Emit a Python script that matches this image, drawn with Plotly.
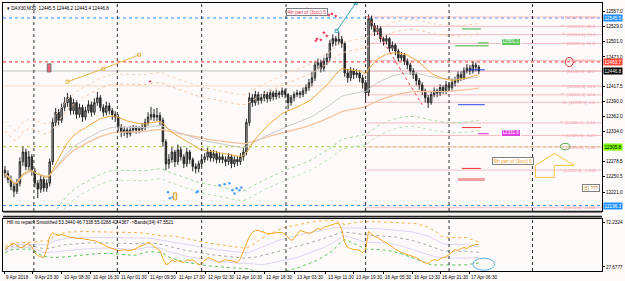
import pandas as pd
import plotly.graph_objects as go

# ---------------- data ----------------
first_open = 12262
closes = [12256,12245,12232,12223,12238,12278,12296,12269,12287,12260,
          12238,12227,12245,12229,12238,12278,12351,12370,12355,12379,
          12388,12397,12373,12388,12366,12379,12361,12373,12384,12370,
          12388,12397,12379,12370,12382,12373,12366,12361,12342,12333,
          12337,12330,12337,12340,12337,12339,12342,12351,12361,12366,
          12361,12364,12355,12315,12274,12282,12296,12278,12300,12287,
          12274,12296,12282,12269,12265,12274,12282,12287,12296,12285,
          12293,12282,12287,12282,12278,12287,12274,12282,12278,12287,
          12296,12351,12397,12388,12403,12392,12397,12403,12395,12406,
          12399,12406,12403,12410,12403,12388,12397,12403,12406,12403,
          12410,12416,12425,12434,12458,12462,12452,12465,12471,12498,
          12507,12502,12506,12498,12443,12434,12447,12440,12443,12434,
          12425,12406,12544,12531,12520,12526,12507,12502,12507,12489,
          12495,12484,12471,12476,12465,12458,12447,12440,12429,12421,
          12410,12397,12388,12403,12410,12406,12416,12410,12421,12416,
          12425,12429,12440,12434,12447,12452,12447,12458,12454,12446.8]
highs = [12270,12262,12252,12240,12246,12286,12306,12302,12298,12292,
         12266,12244,12252,12250,12245,12284,12360,12378,12376,12386,
         12398,12406,12402,12395,12392,12386,12384,12380,12392,12390,
         12396,12408,12402,12385,12390,12388,12378,12372,12366,12348,
         12344,12342,12344,12346,12345,12344,12350,12358,12370,12380,
         12376,12378,12370,12360,12320,12292,12305,12300,12310,12306,
         12292,12304,12300,12286,12275,12280,12290,12294,12304,12300,
         12300,12298,12294,12292,12288,12294,12292,12288,12288,12294,
         12304,12358,12406,12404,12410,12408,12404,12410,12408,12412,
         12410,12412,12410,12416,12414,12406,12402,12408,12412,12410,
         12416,12422,12432,12445,12466,12470,12468,12472,12480,12505,
         12515,12512,12520,12512,12502,12450,12454,12452,12450,12448,
         12440,12430,12552,12550,12536,12532,12530,12512,12514,12510,
         12502,12498,12488,12482,12480,12470,12462,12452,12444,12434,
         12426,12414,12402,12410,12416,12414,12422,12420,12428,12426,
         12432,12436,12446,12446,12454,12460,12458,12464,12463,12458]
lows = [12248,12238,12225,12212,12218,12232,12270,12262,12262,12252,
        12230,12210,12220,12222,12222,12232,12272,12344,12346,12350,
        12372,12380,12365,12366,12358,12360,12352,12355,12368,12362,
        12365,12382,12372,12362,12364,12366,12356,12352,12334,12324,
        12326,12322,12325,12332,12330,12331,12334,12336,12345,12355,
        12354,12354,12346,12306,12262,12265,12276,12268,12272,12280,
        12266,12268,12274,12260,12256,12258,12268,12276,12280,12278,
        12278,12275,12276,12275,12270,12272,12266,12268,12270,12272,
        12280,12290,12345,12380,12382,12384,12386,12390,12388,12390,
        12392,12394,12396,12398,12396,12375,12382,12390,12398,12396,
        12398,12404,12410,12418,12428,12450,12444,12446,12458,12465,
        12492,12494,12496,12490,12436,12425,12428,12432,12434,12426,
        12414,12392,12400,12524,12512,12514,12500,12494,12496,12482,
        12484,12476,12464,12466,12458,12450,12440,12432,12420,12412,
        12402,12388,12378,12384,12398,12398,12400,12404,12404,12410,
        12410,12418,12424,12428,12430,12442,12440,12442,12446,12441]
osc = [45,48,50,51,49,47,47,50,51,48,
       42,39,38,37,45,58,62,60,59,60,
       59,58,57,57,56,56,56,55,55,54,
       54,53,51,50,48,47,46,45,44,44,
       45,44,44,45,46,48,49,50,52,51,
       48,46,44,36,30,31,35,33,34,33,
       32,35,34,35,32,30,31,34,37,36,
       35,33,32,34,35,34,34,33,32,36,
       44,52,58,62,64,64,63,62,61,61,
       61,62,62,62,60,57,54,56,60,64,
       63,62,61,62,64,66,65,67,68,69,
       70,71,71,65,52,47,46,45,45,44,
       42,45,63,60,58,57,55,53,52,49,
       48,45,44,42,41,40,39,38,37,35,
       33,32,31,34,35,34,36,37,38,40,
       43,45,44,46,47,46,48,49,50,50]

tick_pos = [-0.3, 9.3, 19, 28.7, 38.3, 48, 57.7, 67.3, 77, 87, 97.3, 107.7, 117, 127, 136.7, 146, 155.7]
tick_text = ["9 Apr 2018", "9 Apr 23:30", "10 Apr 08:30", "10 Apr 16:30", "11 Apr 01:30",
             "11 Apr 09:30", "11 Apr 17:30", "12 Apr 02:30", "12 Apr 10:30", "12 Apr 18:30",
             "13 Apr 03:30", "13 Apr 11:30", "13 Apr 19:30", "16 Apr 05:30", "16 Apr 13:30",
             "16 Apr 21:30", "17 Apr 06:30"]
day_sep = [9.7, 37.7, 66, 94.3, 121, 149, 177]
price_ticks = [12557.0, 12529.0, 12501.0, 12473.0, 12417.5, 12390.0, 12362.0, 12334.0, 12278.5, 12250.5, 12221.0]

fib_prices = [12547.2, 12529.9, 12514.5, 12498.0, 12466.1, 12446.1, 12418.8, 12402.3, 12388.5,
              12350.1, 12326.6, 12305.3, 12262.4, 12192.3]
fib_texts = ["*  [12547.2]  100.0", "***  [12529.9]  88.6", "**  [12514.5]  76.4", "*  [12498.0]  61.8",
             "[12466.1]  50.0", "*  [12446.1]  38.2", "**  [12418.8]  23.6", "***  [12402.3]  14.6",
             "SL  [12388.5]  0.0", "**  [12350.1]  -1.14", "*  [12326.6]  -1.27", "[12305.3]  -1.44",
             "*  [12262.4]  -1.618", "[12192.3]  -2.618"]

sig_x = [101.3, 108.7, 109.7, 111.0, 107.0, 108.0, 104.7, 106.0, 104.3]
sig_y = [12562, 12551, 12553, 12549, 12518, 12512, 12506.5, 12504.7, 12503]
blue_x = [54.7, 55.3, 56.3, 64.3, 64.7, 72.0, 73.7, 75.3, 76.3, 77.7, 78.7, 79.3, 77.0]
blue_y = [12221, 12210, 12212, 12221, 12223, 12234, 12236, 12238, 12225, 12228.5, 12225, 12230, 12219]
trend_x = [21, 33, 45]
trend_y = [12426.8, 12450.9, 12476.9]

# ---------------- figure ----------------
XL, XR = -0.67, 200.33
YMIN, YMAX = 12185.8, 12573.3
bars = list(range(len(closes)))
opens = [first_open] + closes[:-1]
s = pd.Series(closes, dtype=float)
ema_f = s.ewm(span=21).mean()
ema_m = s.ewm(span=55).mean()
ema_s = s.ewm(span=120).mean()

fig = go.Figure()

def line(x, y, color, width=1, dash='solid', ax=('x', 'y'), mode='lines', marker=None):
    fig.add_trace(go.Scatter(x=x, y=y, mode=mode, line=dict(color=color, width=width, dash=dash),
                             marker=marker, hoverinfo='skip', showlegend=False,
                             xaxis=ax[0], yaxis=ax[1]))

# envelopes
for k, col in [(0.0065, '#f6c6a8'), (0.008, '#f8d2b8')]:
    line(bars, ema_m * (1 + k), col, 1, 'dot')
for k, col in [(0.0065, '#9ad89a'), (0.008, '#b2e2b2')]:
    line(bars, ema_m * (1 - k), col, 1, 'dot')

fig.add_trace(go.Candlestick(
    x=bars, open=opens, high=highs, low=lows, close=closes,
    increasing=dict(line=dict(color='#2a2a2a', width=1), fillcolor='#b0b0b0'),
    decreasing=dict(line=dict(color='#2a2a2a', width=1), fillcolor='#2a2a2a'),
    whiskerwidth=0, hoverinfo='skip', showlegend=False, xaxis='x', yaxis='y'))

line(bars, ema_s, '#f6c39c', 1.3)
line(bars, ema_m, '#c9c9c9', 1)
line(bars, ema_f, '#eeaa3c', 1)

# trend line, teal line, red zigzag
line(trend_x, trend_y, '#e6b84c', 1, mode='lines+markers',
     marker=dict(symbol='square-open', size=3, color='#e6b84c'))
line([111.3, 117.7], [12521.4, 12573], '#3aaab4', 1, mode='lines+markers',
     marker=dict(symbol='square-open', size=3, color='#3aaab4'))
line([121.7, 140], [12549, 12384], '#f04050', 1, 'dot')

# signal markers
line(sig_x, sig_y, '#e83a5a', mode='markers', marker=dict(symbol='star', size=3, color='#e83a5a'))
line([48.7], [12427], '#e83a5a', mode='markers', marker=dict(symbol='triangle-up', size=3, color='#e83a5a'))
line(blue_x, blue_y, '#4a9eff', mode='markers', marker=dict(symbol='circle', size=2.5, color='#4a9eff'))

# short level segments
segs = [(153.3, 159.7, 12525, '#3cb043', 1), (151, 162.3, 12493.6, '#3cb043', 1),
        (158.7, 162.3, 12499, '#3cb043', 1), (155.7, 161, 12449, '#2040e0', 1),
        (152, 161, 12384, '#2040e0', 1), (153.3, 159.7, 12341.5, '#f03030', 1),
        (158.7, 162.3, 12330, '#e020e0', 1), (153.3, 159.7, 12265.5, '#f03030', 1),
        (152, 161, 12245, '#f4a0a0', 3)]
for x0, x1, yv, col, w in segs:
    line([x0, x1], [yv, yv], col, w)

# lower pane
o = pd.Series(osc, dtype=float)
mid = o.rolling(34, min_periods=1).mean()
sd = o.rolling(34, min_periods=8).std().bfill()
ax2 = ('x2', 'y2')
line(bars, mid + 0.8 * sd, '#dcd4f2', 1, ax=ax2)
line(bars, mid - 0.8 * sd, '#dcd4f2', 1, ax=ax2)
line(bars, mid + 1.6 * sd, '#f2b24a', 1, 'dot', ax=ax2)
line(bars, mid, '#a8a8a8', 1, 'dot', ax=ax2)
line(bars, mid - 1.6 * sd, '#58c458', 1, 'dot', ax=ax2)
line(bars, osc, '#f5a623', 1, ax=ax2)

shapes = []
# full-width horizontal lines
for yv, col, dash in [(12545.5, '#1e90ff', 'dot'), (12463.7, '#f03030', 'dot'),
                      (12446.8, '#c0c0c0', 'solid'), (12419.0, '#f8d8c4', 'solid'),
                      (12305.8, '#9acd32', 'dot'), (12196.3, '#1e90ff', 'dot')]:
    shapes.append(dict(type='line', xref='paper', x0=0, x1=1, yref='y', y0=yv, y1=yv,
                       line=dict(color=col, width=1, dash=dash), layer='below'))
# fib lines
for p in fib_prices:
    shapes.append(dict(type='line', xref='x', x0=121, x1=XR, yref='y', y0=p, y1=p,
                       line=dict(color='#f6bcc4', width=1), layer='below'))
# day separators
for d in day_sep:
    shapes.append(dict(type='line', xref='x', x0=d, x1=d, yref='paper', y0=0, y1=1,
                       line=dict(color='#303030', width=1, dash='dot')))
# pane separator
for y0, y1 in [(0.2175, 0.2250), (0.2000, 0.2070)]:
    shapes.append(dict(type='rect', xref='paper', x0=0, x1=1, yref='paper', y0=y0, y1=y1,
                       line=dict(width=0), fillcolor='#202020'))
shapes.append(dict(type='rect', xref='paper', x0=0, x1=1, yref='paper', y0=0.2070, y1=0.2175,
                   line=dict(width=0), fillcolor='#f4f0f0'))
# icons
shapes.append(dict(type='rect', xref='x', yref='y', x0=14.2, x1=15.4, y0=12445, y1=12460,
                   line=dict(color='#707070', width=1), fillcolor='#f06070'))
shapes.append(dict(type='rect', xref='x', yref='y', x0=56.5, x1=57.6, y0=12207, y1=12220,
                   line=dict(color='#e0a030', width=1), fillcolor='#fff0c0'))
# ellipses
shapes.append(dict(type='circle', xref='x', yref='y', x0=188, x1=190.7, y0=12455, y1=12472,
                   line=dict(color='#e03030', width=1)))
shapes.append(dict(type='circle', xref='x', yref='y', x0=186.3, x1=189.7, y0=12300, y1=12312,
                   line=dict(color='#40b040', width=1)))
shapes.append(dict(type='circle', xref='x2', yref='y2', x0=157, x1=164.3, y0=24.5, y1=36.5,
                   line=dict(color='#5ab4e8', width=1)))
# arrow
shapes.append(dict(type='path', xref='x', yref='y',
                   path='M 178,12271.1 L 184.3,12293.3 L 191,12271.1 L 184.3,12271.1 L 184.3,12248.8 L 178,12248.8 Z',
                   line=dict(color='#f5c542', width=1)))

ann = []
fs = 4.6
ann.append(dict(xref='paper', yref='paper', x=0, y=1, xanchor='left', yanchor='top', xshift=2, yshift=-1,
                text='▾ DAX30,M30  12445.5 12446.2 12443.4 12446.8', showarrow=False,
                font=dict(size=fs, color='#000')))
ann.append(dict(xref='paper', yref='paper', x=0, y=0.182, xanchor='left', yanchor='middle', xshift=2,
                text='Hill no repaint Smoothed 53.3440 46.7338 55.0288 42.4387 ->Bands(34) 47.5521',
                showarrow=False, font=dict(size=fs, color='#000')))
for tp, tt in zip(tick_pos, tick_text):
    ann.append(dict(xref='x2', yref='paper', x=tp, y=-0.006, xanchor='left', yanchor='top',
                    text=tt, showarrow=False, font=dict(size=fs, color='#000')))
for p, t in zip(fib_prices, fib_texts):
    ann.append(dict(xref='x', yref='y', x=XR - 1.5, y=p, xanchor='right', yanchor='middle',
                    text=t, showarrow=False, font=dict(size=4.2, color='#f2a0aa')))
for yv, txt, bg, fc in [(12545.5, '12545.5', '#1e90ff', '#fff'), (12463.7, '12463.7', '#ff4a3a', '#fff'),
                        (12446.8, '12446.8', '#000', '#fff'), (12305.8, '12305.8', '#7cfc00', '#000'),
                        (12196.3, '12196.3', '#1e90ff', '#fff')]:
    ann.append(dict(xref='paper', yref='y', x=1, y=yv, xanchor='left', yanchor='middle', xshift=1,
                    text=txt, showarrow=False, bgcolor=bg, borderpad=0.5, font=dict(size=fs, color=fc)))
for x, y, txt, col in [(101.3, 12555.7, '4th part of (3ccc) 5', '#e8304a'),
                       (170.3, 12279.4, '5th part of (3ccc) 6', '#f0a020'),
                       (196.7, 12228.4, '(5) ???', '#c08020')]:
    ann.append(dict(xref='x', yref='y', x=x, y=y, text=txt, showarrow=False, bgcolor='#ffffff',
                    bordercolor='#808080', borderwidth=1, borderpad=0.5, font=dict(size=fs, color=col)))
for x, y, txt, bg in [(169.7, 12501.1, '12501.1', '#5cc85c'), (169.7, 12331.9, '12331.9', '#e040e0')]:
    ann.append(dict(xref='x', yref='y', x=x, y=y, text=txt, showarrow=False, bgcolor=bg,
                    bordercolor='#ffffff', borderwidth=1, borderpad=0.3, font=dict(size=fs, color='#fff')))

axis_common = dict(showgrid=False, zeroline=False, showline=True, linecolor='#000', linewidth=1, mirror=True)
fig.update_layout(
    width=625, height=281, margin=dict(l=2, r=20, t=2, b=10),
    paper_bgcolor='#fffafa', plot_bgcolor='#fffafa', showlegend=False,
    font=dict(family='Liberation Sans, Arial, sans-serif', size=fs, color='#000'),
    xaxis=dict(domain=[0, 1], range=[XL, XR], anchor='y', showticklabels=False, ticks='',
               rangeslider=dict(visible=False), **axis_common),
    yaxis=dict(domain=[0.223, 1], range=[YMIN, YMAX], side='right', anchor='x',
               tickvals=price_ticks, ticktext=[f'{v:.1f}' for v in price_ticks],
               ticks='outside', ticklen=2, tickcolor='#000', tickfont=dict(size=fs), **axis_common),
    xaxis2=dict(domain=[0, 1], range=[XL, XR], anchor='y2', tickvals=tick_pos, ticks='outside',
                ticklen=2, tickcolor='#000', showticklabels=False, **axis_common),
    yaxis2=dict(domain=[0, 0.1933], range=[23.7, 75.2], side='right', anchor='x2',
                tickvals=[72.2324, 27.6777], ticktext=['72.2324', '27.6777'],
                ticks='outside', ticklen=2, tickcolor='#000', tickfont=dict(size=fs), **axis_common),
    shapes=shapes, annotations=ann,
)
fig.write_html("out.html")
